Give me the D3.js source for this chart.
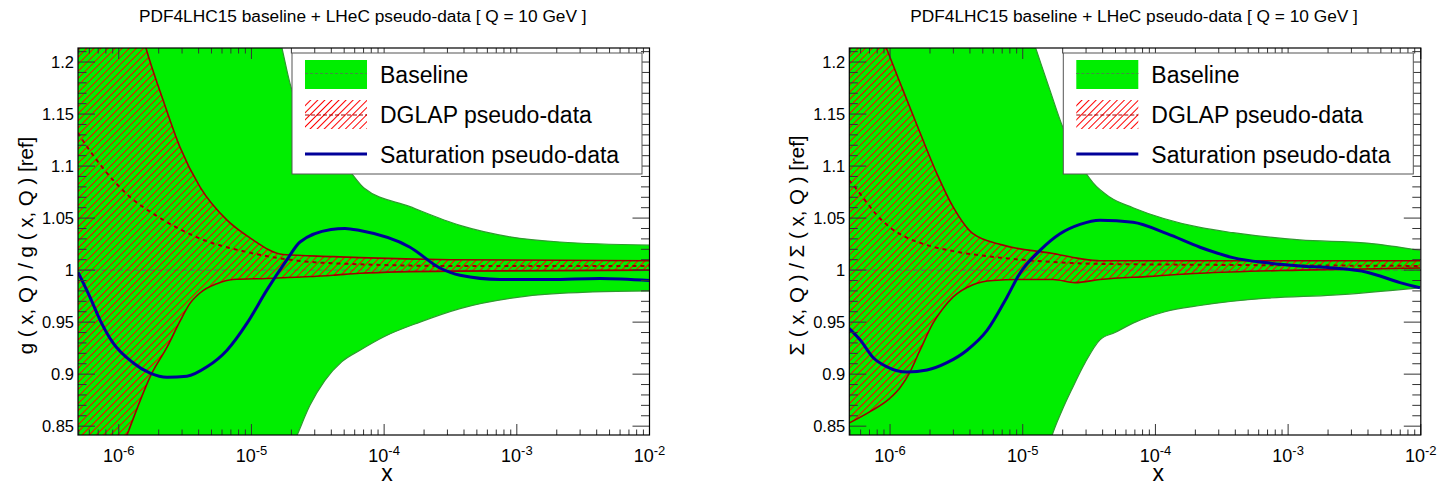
<!DOCTYPE html>
<html><head><meta charset="utf-8">
<script src="https://cdn.jsdelivr.net/npm/d3@7"></script>
<style>
html,body{margin:0;padding:0;background:#fff;}
svg text{font-family:"Liberation Sans",Arial,Helvetica,sans-serif;fill:#000;}
</style></head>
<body>
<svg id="chart" width="1443" height="485"></svg>
<script>
// ---------- axis definitions ----------
const xDomain = [4.93e-7, 1e-2];
const yDomain = [0.8415, 1.2135];
const xTickValues = [1e-6, 1e-5, 1e-4, 1e-3, 1e-2];
const xTickExponents = ["-6", "-5", "-4", "-3", "-2"];
const yTickValues = [0.85, 0.9, 0.95, 1, 1.05, 1.1, 1.15, 1.2];
const yTickLabels = ["0.85", "0.9", "0.95", "1", "1.05", "1.1", "1.15", "1.2"];
const titleText = "PDF4LHC15 baseline + LHeC pseudo-data [ Q = 10 GeV ]";
const legendLabels = ["Baseline", "DGLAP pseudo-data", "Saturation pseudo-data"];

// ---------- gluon panel (x given as log10(x)) ----------
const gluonBaseUpLx = [-6.31, -5.5, -5.0, -4.77, -4.702, -4.559, -4.408, -4.258, -4.152, -3.805, -3.428, -3.052, -2.675, -2.0];
const gluonBaseUp   = [2.2, 1.65, 1.34, 1.2135, 1.176, 1.145, 1.118, 1.095, 1.079, 1.061, 1.043, 1.032, 1.027, 1.024];
const gluonBaseLoLx = [-6.31, -5.5, -4.9, -4.657, -4.559, -4.446, -4.318, -4.182, -4.001, -3.73, -3.428, -2.924, -2.426, -2.0];
const gluonBaseLo   = [0.4, 0.6, 0.77, 0.841, 0.870, 0.894, 0.912, 0.923, 0.936, 0.950, 0.963, 0.975, 0.979, 0.980];
const gluonBaseMidLx = [-6.31, -2.0];
const gluonBaseMid   = [1.0, 1.0];

const gluonDglapUpLx = [-6.31, -6.0, -5.85, -5.795, -5.666, -5.538, -5.388, -5.184, -5.011, -4.762, -4.385, -4.182, -3.5, -2.0];
const gluonDglapUp   = [1.42, 1.30, 1.24, 1.2135, 1.1635, 1.118, 1.080, 1.048, 1.031, 1.015, 1.013, 1.012, 1.010, 1.009];
const gluonDglapLoLx = [-6.31, -6.1, -5.938, -5.75, -5.636, -5.538, -5.463, -5.388, -5.26, -5.139, -4.883, -4.385, -4.182, -3.5, -2.0];
const gluonDglapLo   = [0.724, 0.786, 0.8414, 0.901, 0.926, 0.951, 0.968, 0.978, 0.987, 0.991, 0.992, 0.995, 0.997, 0.999, 1.000];
const gluonDglapMidLx = [-6.31, -6.15, -5.93, -5.70, -5.40, -5.02, -4.65, -4.27, -3.5, -2.0];
const gluonDglapMid   = [1.132, 1.103, 1.072, 1.051, 1.031, 1.017, 1.009, 1.006, 1.004, 1.004];

const gluonSatLx = [-6.307, -6.217, -6.141, -6.043, -5.893, -5.764, -5.636, -5.486, -5.335, -5.184, -5.033, -4.883, -4.732, -4.634, -4.40, -4.295, -4.182, -3.805, -3.579, -3.428, -3.127, -2.750, -2.373, -1.997];
const gluonSat   = [0.998, 0.974, 0.952, 0.930, 0.911, 0.901, 0.897, 0.898, 0.907, 0.923, 0.949, 0.981, 1.010, 1.027, 1.039, 1.040, 1.038, 1.022, 1.002, 0.995, 0.991, 0.991, 0.992, 0.990];

// ---------- singlet (Sigma) panel ----------
const sigmaBaseUpLx = [-6.31, -5.5, -5.0, -4.900, -4.795, -4.697, -4.584, -4.471, -4.342, -4.169, -3.664, -3.416, -2.911, -2.406, -2.006];
const sigmaBaseUp   = [2.0, 1.5, 1.25, 1.2125, 1.173, 1.137, 1.106, 1.084, 1.070, 1.060, 1.041, 1.036, 1.029, 1.026, 1.019];
const sigmaBaseLoLx = [-6.31, -5.5, -4.9, -4.779, -4.704, -4.628, -4.530, -4.418, -4.305, -4.169, -3.928, -3.664, -3.159, -2.662, -2.006];
const sigmaBaseLo   = [0.4, 0.6, 0.78, 0.841, 0.865, 0.886, 0.911, 0.933, 0.940, 0.949, 0.960, 0.966, 0.973, 0.976, 0.983];
const sigmaBaseMidLx = [-6.31, -2.0];
const sigmaBaseMid   = [1.0, 1.0];

const sigmaDglapUpLx = [-6.31, -6.15, -6.025, -5.912, -5.774, -5.648, -5.526, -5.375, -5.149, -4.772, -4.568, -4.418, -3.287, -2.006];
const sigmaDglapUp   = [1.30, 1.255, 1.2125, 1.176, 1.132, 1.093, 1.061, 1.035, 1.024, 1.016, 1.011, 1.009, 1.009, 1.009];
const sigmaDglapLoLx = [-6.309, -6.151, -6.000, -5.925, -5.850, -5.774, -5.676, -5.601, -5.526, -5.375, -5.224, -5.021, -4.772, -4.606, -4.418, -4.041, -3.664, -2.911, -2.006];
const sigmaDglapLo   = [0.853, 0.864, 0.877, 0.887, 0.902, 0.923, 0.949, 0.963, 0.974, 0.986, 0.990, 0.991, 0.991, 0.988, 0.991, 0.994, 0.997, 1.000, 1.002];
const sigmaDglapMidLx = [-6.31, -6.26, -6.17, -6.10, -6.0, -5.87, -5.72, -5.47, -5.17, -4.80, -4.42, -3.5, -2.0];
const sigmaDglapMid   = [1.0865, 1.079, 1.064, 1.053, 1.041, 1.031, 1.024, 1.017, 1.012, 1.008, 1.006, 1.005, 1.004];

const sigmaSatLx = [-6.309, -6.226, -6.128, -6.023, -5.872, -5.721, -5.571, -5.420, -5.269, -5.119, -5.021, -4.870, -4.719, -4.568, -4.418, -4.169, -3.913, -3.664, -3.416, -3.159, -2.911, -2.662, -2.406, -2.157, -2.006];
const sigmaSat   = [0.944, 0.933, 0.916, 0.907, 0.902, 0.904, 0.911, 0.923, 0.942, 0.974, 0.997, 1.019, 1.035, 1.044, 1.048, 1.046, 1.035, 1.022, 1.012, 1.007, 1.004, 1.002, 0.998, 0.988, 0.983];

const panels = [
  { left: 78, yLabel: "g ( x, Q ) / g ( x, Q ) [ref]",
    baseUp: [gluonBaseUpLx, gluonBaseUp], baseLo: [gluonBaseLoLx, gluonBaseLo], baseMid: [gluonBaseMidLx, gluonBaseMid],
    dglapUp: [gluonDglapUpLx, gluonDglapUp], dglapLo: [gluonDglapLoLx, gluonDglapLo], dglapMid: [gluonDglapMidLx, gluonDglapMid],
    sat: [gluonSatLx, gluonSat] },
  { left: 849.3, yLabel: "\u03A3 ( x, Q ) / \u03A3 ( x, Q ) [ref]",
    baseUp: [sigmaBaseUpLx, sigmaBaseUp], baseLo: [sigmaBaseLoLx, sigmaBaseLo], baseMid: [sigmaBaseMidLx, sigmaBaseMid],
    dglapUp: [sigmaDglapUpLx, sigmaDglapUp], dglapLo: [sigmaDglapLoLx, sigmaDglapLo], dglapMid: [sigmaDglapMidLx, sigmaDglapMid],
    sat: [sigmaSatLx, sigmaSat] }
];

// ---------- layout ----------
const W = 571.5, H = 387, TOP = 48;
const GREEN = "#00ee00", GREEN_EDGE = "#2f9a2f", GREEN_MID = "#3f8f3f";
const RED_EDGE = "#a00000", BLUE = "#000099";

const svg = d3.select("#chart");
const defs = svg.append("defs");
const pat = defs.append("pattern").attr("id", "hatch").attr("patternUnits", "userSpaceOnUse")
  .attr("width", 5).attr("height", 5).attr("patternTransform", "rotate(45)");
pat.append("line").attr("x1", 1.5).attr("y1", 0).attr("x2", 1.5).attr("y2", 5)
  .attr("stroke", "#ff0000").attr("stroke-width", 1);

const x = d3.scaleLog().domain(xDomain).range([0, W]);
const y = d3.scaleLinear().domain(yDomain).range([H, 0]);

function pts(arr) { return arr[0].map((v, i) => [Math.pow(10, v), arr[1][i]]); }

panels.forEach((p, pi) => {
  const g = svg.append("g").attr("transform", `translate(${p.left},${TOP})`);
  const clipId = "clip" + pi;
  defs.append("clipPath").attr("id", clipId).append("rect").attr("width", W).attr("height", H);
  const plot = g.append("g").attr("clip-path", `url(#${clipId})`);

  const line = d3.line().x(d => x(d[0])).y(d => y(d[1])).curve(d3.curveMonotoneX);
  const below = d3.area().x(d => x(d[0])).y0(H + 400).y1(d => y(d[1])).curve(d3.curveMonotoneX);
  const above = d3.area().x(d => x(d[0])).y0(d => y(d[1])).y1(-400).curve(d3.curveMonotoneX);

  // band = (region below upper edge) ∩ (region above lower edge)
  function band(up, lo, fill, id) {
    defs.append("clipPath").attr("id", id).append("path").datum(pts(up)).attr("d", below);
    plot.append("g").attr("clip-path", `url(#${id})`)
      .append("path").datum(pts(lo)).attr("d", above).attr("fill", fill);
  }

  // baseline band
  band(p.baseUp, p.baseLo, GREEN, "bclip" + pi);
  [p.baseUp, p.baseLo].forEach(e => plot.append("path").datum(pts(e)).attr("d", line)
    .attr("fill", "none").attr("stroke", GREEN_EDGE).attr("stroke-width", 1.2));
  plot.append("path").datum(pts(p.baseMid)).attr("d", line).attr("fill", "none").attr("stroke", GREEN_MID)
    .attr("stroke-width", 1.3).attr("stroke-dasharray", "5,3");

  // DGLAP band
  band(p.dglapUp, p.dglapLo, "url(#hatch)", "dclip" + pi);
  [p.dglapUp, p.dglapLo].forEach(e => plot.append("path").datum(pts(e)).attr("d", line)
    .attr("fill", "none").attr("stroke", RED_EDGE).attr("stroke-width", 1.6));
  plot.append("path").datum(pts(p.dglapMid)).attr("d", line).attr("fill", "none").attr("stroke", RED_EDGE)
    .attr("stroke-width", 2).attr("stroke-dasharray", "4,4");

  // saturation
  plot.append("path").datum(pts(p.sat)).attr("d", line).attr("fill", "none").attr("stroke", BLUE).attr("stroke-width", 3);

  // ticks (inward, all four sides)
  const minorX = [];
  for (let e = -7; e <= -3; e++) for (let m = 2; m <= 9; m++) {
    const v = m * Math.pow(10, e);
    if (v >= xDomain[0] && v <= xDomain[1]) minorX.push(v);
  }
  const minorY = d3.range(85, 122, 1).map(v => v / 100).filter(v => v >= yDomain[0] && v <= yDomain[1]);
  const tk = g.append("g").attr("stroke", "#333").attr("stroke-width", 1);
  xTickValues.forEach(v => {
    tk.append("line").attr("x1", x(v)).attr("x2", x(v)).attr("y1", H).attr("y2", H - 11);
    tk.append("line").attr("x1", x(v)).attr("x2", x(v)).attr("y1", 0).attr("y2", 11);
  });
  minorX.forEach(v => {
    tk.append("line").attr("x1", x(v)).attr("x2", x(v)).attr("y1", H).attr("y2", H - 5.5);
    tk.append("line").attr("x1", x(v)).attr("x2", x(v)).attr("y1", 0).attr("y2", 5.5);
  });
  minorY.forEach(v => {
    const major = yTickValues.some(t => Math.abs(t - v) < 1e-9);
    const L = major ? 17 : 8.5;
    tk.append("line").attr("x1", 0).attr("x2", L).attr("y1", y(v)).attr("y2", y(v));
    tk.append("line").attr("x1", W).attr("x2", W - L).attr("y1", y(v)).attr("y2", y(v));
  });

  // frame
  g.append("rect").attr("width", W).attr("height", H).attr("fill", "none").attr("stroke", "#000").attr("stroke-width", 1.2);

  // y tick labels
  yTickValues.forEach((v, i) => {
    g.append("text").attr("x", -4).attr("y", y(v)).attr("dy", "0.36em").attr("text-anchor", "end")
      .style("font-size", "16.5px").text(yTickLabels[i]);
  });
  // x tick labels
  xTickValues.forEach((v, i) => {
    const t = g.append("text").attr("x", x(v)).attr("y", H + 27).attr("text-anchor", "middle").style("font-size", "18px");
    t.append("tspan").text("10");
    t.append("tspan").attr("dy", "-7").style("font-size", "13px").text(xTickExponents[i]);
  });
  // axis titles
  g.append("text").attr("x", x(1.05e-4)).attr("y", H + 46).attr("text-anchor", "middle").style("font-size", "23px").text("x");
  g.append("text").attr("transform", `translate(${-45.5},${H / 2 + 4}) rotate(-90)`).attr("text-anchor", "middle")
    .style("font-size", "20.5px").text(p.yLabel);
  // title
  g.append("text").attr("x", W / 2 - 1).attr("y", -26).attr("text-anchor", "middle").style("font-size", "17.3px").text(titleText);

  // legend
  const lg = g.append("g").attr("transform", `translate(${214},${5})`);
  lg.append("rect").attr("width", 350).attr("height", 121).attr("fill", "#fff").attr("stroke", "#555").attr("stroke-width", 1);
  lg.append("rect").attr("x", 13).attr("y", 7).attr("width", 62).attr("height", 29).attr("fill", GREEN);
  lg.append("line").attr("x1", 13).attr("x2", 75).attr("y1", 20.5).attr("y2", 20.5).attr("stroke", GREEN_MID).attr("stroke-width", 1).attr("stroke-dasharray", "3,2");
  lg.append("rect").attr("x", 13).attr("y", 47).attr("width", 62).attr("height", 29).attr("fill", "url(#hatch)");
  lg.append("line").attr("x1", 13).attr("x2", 75).attr("y1", 62).attr("y2", 62).attr("stroke", RED_EDGE).attr("stroke-width", 1).attr("stroke-dasharray", "4,2");
  lg.append("line").attr("x1", 13).attr("x2", 75).attr("y1", 101).attr("y2", 101).attr("stroke", BLUE).attr("stroke-width", 3);
  legendLabels.forEach((s, i) => {
    lg.append("text").attr("x", 88).attr("y", 29.5 + 40 * i).style("font-size", "23px").text(s);
  });
});
</script>
</body></html>
